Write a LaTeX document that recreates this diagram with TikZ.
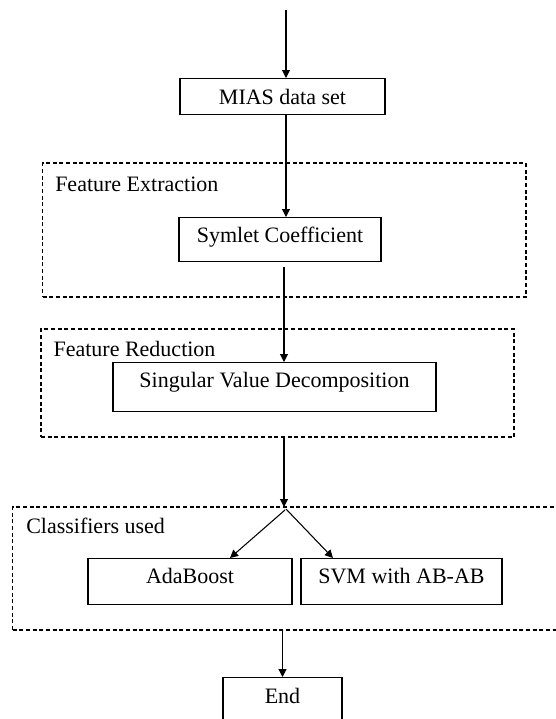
\documentclass[tikz,border=0pt]{standalone}
\usepackage{fontspec}
\setmainfont{Liberation Serif}
\usetikzlibrary{arrows.meta, backgrounds}

\begin{document}
\begin{tikzpicture}[
        x=0.75pt, y=-0.75pt,
        process/.style={rectangle, anchor=north, draw=black, line width=0.8pt, inner sep=0pt, font=\fontsize{16.5}{19}\selectfont},
        grouplabel/.style={anchor=base west, inner sep=0pt, font=\fontsize{16.5}{19}\selectfont},
        groupbox/.style={rectangle, draw=black, line width=0.8pt, dash pattern=on 3pt off 2pt, inner sep=0pt},
        arrow/.style={-{Triangle[length=6pt, width=6pt]}, line width=0.8pt}
    ]
    \useasboundingbox (0,0) rectangle (556,719);

    % Main chain
    \node (mias) [process, minimum width=153.75pt, text height=19.5pt, text depth=7.5pt] at (282.5,78) {MIAS data set};
    \node (symlet) [process, minimum width=151.5pt, text height=18.5pt, text depth=14.5pt] at (280,217) {Symlet Coefficient};
    \node (svd) [process, minimum width=242.25pt, text height=18.5pt, text depth=18.25pt] at (274.5,362) {Singular Value Decomposition};

    % Classifiers
    \node (ada) [process, minimum width=153pt, text height=18.75pt, text depth=15.75pt] at (190,558) {AdaBoost};
    \node (svm) [process, minimum width=150.75pt, text height=18.75pt, text depth=15.75pt] at (401.5,558) {SVM with AB-AB};

    % End
    \node (end) [process, minimum width=89.25pt, text height=19.5pt, text depth=19pt] at (282.5,677) {End};

    % Group labels
    \node (felabel) [grouplabel] at (55,191.7) {Feature Extraction};
    \node (frlabel) [grouplabel] at (53.3,356) {Feature Reduction};
    \node (cllabel) [grouplabel] at (26,533) {Classifiers used};

    % Group boxes
    \begin{scope}[on background layer]
        \node (fe) [groupbox, minimum width=362.5pt, minimum height=100.5pt] at (284.35,230) {};
        \node (fr) [groupbox, minimum width=354.75pt, minimum height=81pt] at (277.5,383) {};
        \node (cl) [groupbox, minimum width=414.2pt, minimum height=92.25pt] at (288.85,568.5) {};
    \end{scope}

    \coordinate (top) at (286,10);
    \coordinate (split) at (284,507);

    % Arrows
    \draw [arrow] (top) -- (top |- mias.north);
    \draw [arrow] (mias.south -| top) -- (symlet.north -| top);
    \draw [arrow] ([xshift=3pt, yshift=-3.75pt]symlet.south) -- ([xshift=3pt]symlet.south |- svd.north);
    \draw [arrow] (split |- fr.south) -- (split);
    \draw [arrow] ([xshift=0.75pt, yshift=-2.25pt]split) -- ([xshift=30pt]ada.north);
    \draw [arrow] ([xshift=1.5pt, yshift=-1.5pt]split) -- ([xshift=-51.4pt]svm.north);
    \draw [arrow] (end.north |- cl.south) -- (end.north);
\end{tikzpicture}
\end{document}
